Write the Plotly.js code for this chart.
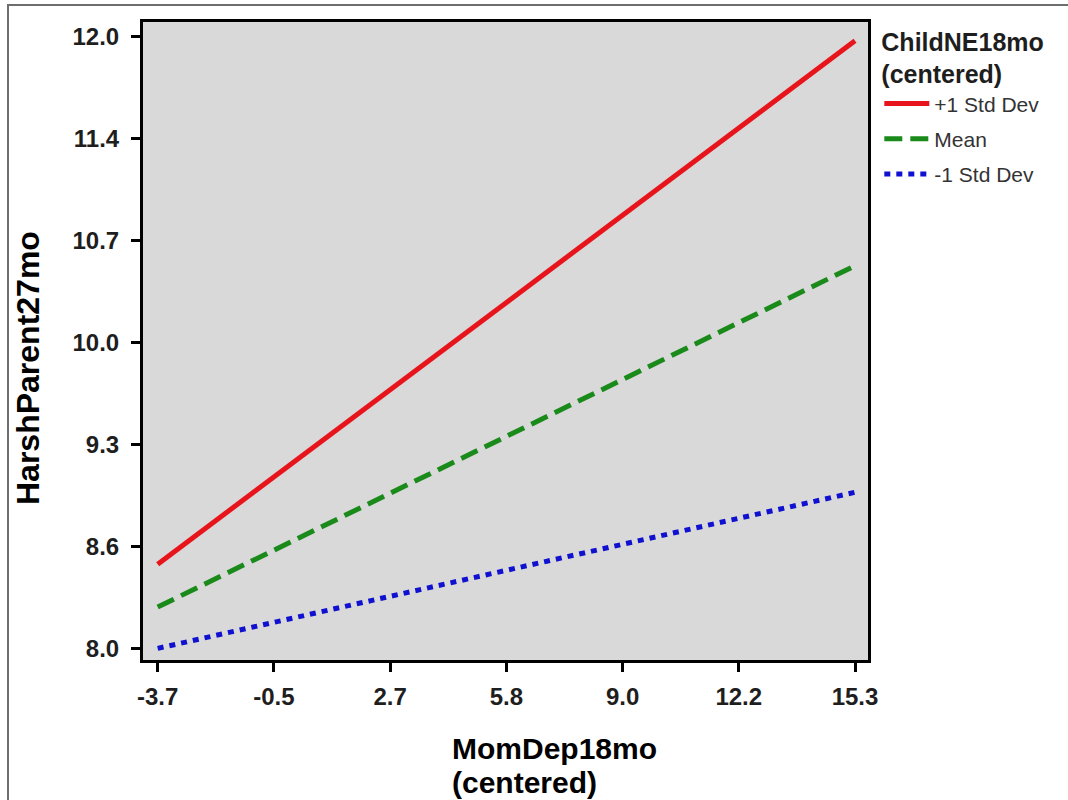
<!DOCTYPE html>
<html>
<head>
<meta charset="utf-8">
<script src="https://cdn.plot.ly/plotly-3.0.1.min.js"></script>
<style>
html,body{margin:0;padding:0;background:#fff;overflow:hidden;}
#chart{width:1068px;height:800px;}
#frame{position:absolute;left:7px;top:4px;width:1100px;height:900px;border:2px solid #6e6e6e;pointer-events:none;}
</style>
</head>
<body>
<div id="chart"></div>
<div id="frame"></div>
<script>
// Data
var momDep = [-3.7, 15.3];
var plusOneSD = [8.55, 11.97];
var meanSD = [8.27, 10.50];
var minusOneSD = [8.00, 9.02];
var seriesNames = ['+1 Std Dev', 'Mean', '-1 Std Dev'];

var xTickVals = [-3.7, -0.533, 2.633, 5.8, 8.967, 12.133, 15.3];
var xTickText = ['-3.7', '-0.5', '2.7', '5.8', '9.0', '12.2', '15.3'];
var yTickVals = [8.0, 8.667, 9.333, 10.0, 10.667, 11.333, 12.0];
var yTickText = ['8.0', '8.6', '9.3', '10.0', '10.7', '11.4', '12.0'];

var FONT = 'Arial, "Liberation Sans", sans-serif';

var traces = [
  {x: momDep, y: plusOneSD, name: seriesNames[0], mode: 'lines', legendgroup: 'a',
   line: {color: '#e8141c', width: 5}},
  {x: momDep, y: meanSD, name: seriesNames[1], mode: 'lines', legendgroup: 'b',
   line: {color: '#1a8a1a', width: 5, dash: '18px,8px'}},
  {x: momDep, y: minusOneSD, name: seriesNames[2], mode: 'lines', legendgroup: 'c',
   line: {color: '#1010d0', width: 5, dash: '6px,6px'}}
];

var axisCommon = {
  showline: true, linecolor: '#000', linewidth: 3, mirror: true,
  showgrid: false, zeroline: false,
  ticks: 'outside', ticklen: 9, tickwidth: 3, tickcolor: '#000',
  tickfont: {family: FONT, size: 24, color: '#1e1e1e', weight: 'bold'},
  tickmode: 'array'
};

var layout = {
  width: 1068, height: 800,
  margin: {l: 143, r: 200, t: 22, b: 140},
  paper_bgcolor: '#ffffff',
  plot_bgcolor: '#d9d9d9',
  showlegend: true,
  xaxis: Object.assign({}, axisCommon, {
    range: [-4.10, 15.654], tickvals: xTickVals, ticktext: xTickText,
    ticklabelstandoff: 4
  }),
  yaxis: Object.assign({}, axisCommon, {
    range: [7.924, 12.093], tickvals: yTickVals, ticktext: yTickText,
    ticklabelstandoff: 7
  }),
  legend: {
    x: 1.0156, xanchor: 'left', y: 1.0057, yanchor: 'top',
    bgcolor: 'rgba(0,0,0,0)', borderwidth: 0,
    font: {family: FONT, size: 21, color: '#333'},
    tracegroupgap: 5,
    itemwidth: 45,
    title: {text: 'ChildNE18mo<br>(centered)', font: {family: FONT, size: 25, color: '#1e1e1e', weight: 'bold'}}
  },
  annotations: [
    {text: 'HarshParent27mo', xref: 'paper', yref: 'paper', x: -0.1586, y: 0.4577,
     textangle: -90, xanchor: 'center', yanchor: 'middle', showarrow: false,
     font: {family: FONT, size: 32, color: '#000', weight: 'bold'}},
    {text: 'MomDep18mo', xref: 'paper', yref: 'paper', x: 0.4234, y: -0.138,
     xanchor: 'left', yanchor: 'middle', showarrow: false,
     font: {family: FONT, size: 30, color: '#000', weight: 'bold'}},
    {text: '(centered)', xref: 'paper', yref: 'paper', x: 0.4234, y: -0.192,
     xanchor: 'left', yanchor: 'middle', showarrow: false,
     font: {family: FONT, size: 30, color: '#000', weight: 'bold'}}
  ]
};

Plotly.newPlot('chart', traces, layout, {displayModeBar: false, staticPlot: true});
</script>
</body>
</html>
